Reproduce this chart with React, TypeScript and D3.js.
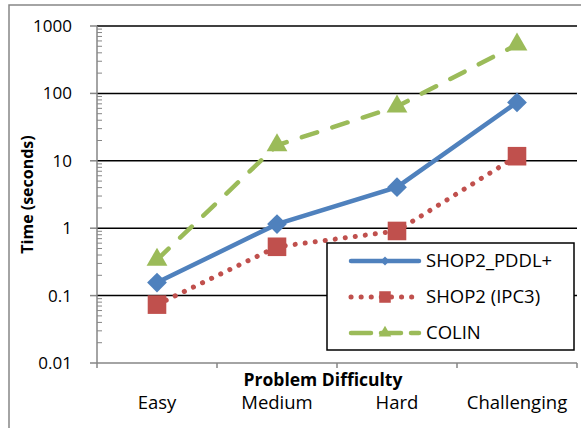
import * as d3 from 'd3';

const categories = ['Easy', 'Medium', 'Hard', 'Challenging'];
const shopPddl = [0.156, 1.15, 4.06, 73.5];
const shopIpc3 = [0.0735, 0.53, 0.91, 11.7];
const colin = [0.34, 17, 64, 530];
const yTicks = [0.01, 0.1, 1, 10, 100, 1000];
const yTickLabels = ['0.01', '0.1', '1', '10', '100', '1000'];

const W = 581;
const H = 428;
const FONT = '"Open Sans", "Liberation Sans", sans-serif';
const AXIS = '#868686';

const margin = { top: 26, right: 4, bottom: 65, left: 97 };

const series = [
  { name: 'SHOP2_PDDL+', values: shopPddl, color: '#4F81BD', dash: null, marker: d3.symbolDiamond2, legScale: 0.45 },
  { name: 'SHOP2 (IPC3)', values: shopIpc3, color: '#C0504D', dash: '0.1 10', marker: d3.symbolSquare2, legScale: 0.62 },
  { name: 'COLIN', values: colin, color: '#9BBB59', dash: '16 16', marker: d3.symbolTriangle2, legScale: 0.6 },
];

function Marker({ type, color, x, y }: { type: d3.SymbolType; color: string; x: number; y: number }) {
  const size = type === d3.symbolSquare2 ? 440 : type === d3.symbolDiamond2 ? 250 : 310;
  const p = d3.symbol(type, size)();
  return <path d={p || ''} transform={`translate(${x},${y})`} fill={color} />;
}

export default function App() {
  const x = d3.scaleBand<string>().domain(categories).range([margin.left, W - margin.right]);
  const y = d3.scaleLog().domain([0.01, 1000]).range([H - margin.bottom, margin.top]);
  const cx = (c: string) => (x(c) as number) + x.bandwidth() / 2;

  const line = d3
    .line<number>()
    .x((_, i) => cx(categories[i]))
    .y((d) => y(d));

  const minor: number[] = [];
  for (let e = -2; e < 3; e++) {
    for (let k = 2; k < 10; k++) minor.push(k * Math.pow(10, e));
  }

  const x0 = margin.left;
  const x1 = W - margin.right;
  const yb = H - margin.bottom;

  const leg = { x: 327, y: 243, w: 247, h: 107 };

  return (
    <svg width={W} height={H} style={{ position: 'absolute', left: 0, top: 0 }} fontFamily={FONT}>
      <rect x={0} y={0} width={W} height={H} fill="#fff" />
      <rect x={9} y={5} width={W + 10} height={H + 10} fill="none" stroke={AXIS} strokeWidth={1.5} />

      {/* grid */}
      {yTicks.slice(1).map((t) => (
        <line key={t} x1={x0} x2={x1} y1={y(t)} y2={y(t)} stroke="#000" strokeWidth={1.5} />
      ))}

      {/* y axis */}
      <line x1={x0} x2={x0} y1={y(1000)} y2={yb} stroke={AXIS} strokeWidth={1.5} />
      {yTicks.map((t) => (
        <line key={t} x1={x0 - 7} x2={x0} y1={y(t)} y2={y(t)} stroke={AXIS} strokeWidth={1.5} />
      ))}
      {minor.map((t) => (
        <line key={t} x1={x0} x2={x0 + 5} y1={y(t)} y2={y(t)} stroke={AXIS} strokeWidth={1} />
      ))}
      {yTicks.map((t, i) => (
        <text key={t} x={72} y={y(t)} dy="0.35em" textAnchor="end" fontSize={17} fill="#000">
          {yTickLabels[i]}
        </text>
      ))}

      {/* x axis */}
      <line x1={x0} x2={x1} y1={yb} y2={yb} stroke={AXIS} strokeWidth={1.5} />
      {[...categories.map((c) => x(c) as number), x1].map((t, i) => (
        <line key={i} x1={t} x2={t} y1={yb} y2={yb + 5} stroke={AXIS} strokeWidth={1.5} />
      ))}
      {categories.map((c) => (
        <text key={c} x={cx(c)} y={409} textAnchor="middle" fontSize={18.5} fill="#000">
          {c}
        </text>
      ))}
      <text x={323} y={386} textAnchor="middle" fontSize={17.5} fontWeight="bold" fill="#000">
        Problem Difficulty
      </text>
      <text
        transform={`translate(33,${(margin.top + yb) / 2}) rotate(-90)`}
        textAnchor="middle"
        fontSize={16}
        fontWeight="bold"
        fill="#000"
      >
        Time (seconds)
      </text>

      {/* series */}
      {series.map((s) => (
        <g key={s.name}>
          <path
            d={line(s.values) || ''}
            fill="none"
            stroke={s.color}
            strokeWidth={s.dash === '0.1 10' ? 5 : 4.5}
            strokeDasharray={s.dash || undefined}
            strokeLinecap={s.dash ? 'round' : 'butt'}
          />
          {s.values.map((v, i) => (
            <Marker key={i} type={s.marker} color={s.color} x={cx(categories[i])} y={y(v)} />
          ))}
        </g>
      ))}

      {/* legend */}
      <rect x={leg.x} y={leg.y} width={leg.w} height={leg.h} fill="#fff" stroke="#000" strokeWidth={1.5} />
      {series.map((s, i) => {
        const ly = leg.y + 18 + i * 36;
        return (
          <g key={s.name}>
            <line
              x1={351}
              x2={419}
              y1={ly}
              y2={ly}
              stroke={s.color}
              strokeWidth={s.dash === '0.1 10' ? 5 : 4.5}
              strokeDasharray={s.dash === '0.1 10' ? '0.1 10' : s.dash ? '20 10' : undefined}
              strokeLinecap="round"
            />
            <g transform={`translate(385,${ly}) scale(${s.legScale})`}>
              <Marker type={s.marker} color={s.color} x={0} y={0} />
            </g>
            <text x={426} y={ly} dy="0.35em" fontSize={18.5} fill="#000">
              {s.name}
            </text>
          </g>
        );
      })}
    </svg>
  );
}
